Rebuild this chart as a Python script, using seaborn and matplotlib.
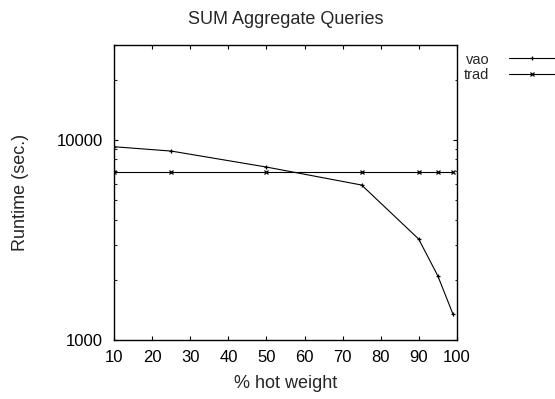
import matplotlib
matplotlib.use("Agg")
import matplotlib.pyplot as plt
import matplotlib.ticker as mticker
import numpy as np
import pandas as pd
import seaborn as sns

# Runtime measurements vs. share of hot weight
hot_weight = [10, 25, 50, 75, 90, 95, 99]
vao_runtime = [9260, 8810, 7330, 5960, 3200, 2100, 1350]
trad_runtime = [6920, 6920, 6920, 6920, 6920, 6920, 6920]
series_names = ["vao", "trad"]

x_ticks = [10, 20, 30, 40, 50, 60, 70, 80, 90, 100]
y_ticks = [1000, 10000]

df = pd.DataFrame({
    "hot": hot_weight * 2,
    "runtime": vao_runtime + trad_runtime,
    "series": [series_names[0]] * len(hot_weight) + [series_names[1]] * len(hot_weight),
})

sns.set_theme(style="ticks")
plt.rcParams["font.family"] = ["Liberation Sans", "DejaVu Sans"]

fig = plt.figure(figsize=(5.55, 3.99), dpi=100)
ax = fig.add_axes([114.3 / 555, 59 / 399, (456.7 - 114.3) / 555, (340 - 44.7) / 399])

sns.lineplot(
    data=df, x="hot", y="runtime", hue="series", style="series",
    markers={"vao": "+", "trad": "x"}, dashes=False,
    palette={"vao": "black", "trad": "black"},
    linewidth=0.8, markersize=3.5, markeredgewidth=0.9,
    markeredgecolor="black",
    ax=ax, legend=True,
)

ax.set_yscale("log")
ax.set_xlim(10, 100)
ax.set_ylim(1000, 30000)
ax.set_xticks(x_ticks)
ax.set_xticklabels([str(t) for t in x_ticks])
ax.yaxis.set_major_locator(mticker.FixedLocator(y_ticks))
ax.yaxis.set_major_formatter(mticker.FixedFormatter([str(t) for t in y_ticks]))
ax.yaxis.set_minor_locator(mticker.LogLocator(base=10, subs=np.arange(2, 10)))
ax.yaxis.set_minor_formatter(mticker.NullFormatter())

for side in ax.spines.values():
    side.set_linewidth(1.0)
    side.set_color("black")

ax.tick_params(axis="both", which="major", direction="in", length=3.2, width=0.8,
               top=True, right=True, labelsize=12, colors="black")
ax.tick_params(axis="x", which="major", pad=7)
ax.tick_params(axis="y", which="major", pad=8)
ax.tick_params(axis="y", which="minor", direction="in", length=1.8, width=0.8,
               left=True, right=True)
ax.tick_params(axis="x", which="minor", bottom=False, top=False)

ax.set_xlabel("% hot weight", fontsize=13)
ax.set_ylabel("Runtime (sec.)", fontsize=13)
ax.xaxis.set_label_coords(0.5, -(374.6 - 340) / 295.3)
ax.yaxis.set_label_coords((29 - 114.3) / 342.4, 0.5)
ax.set_title("SUM Aggregate Queries", fontsize=13, pad=14.7)

handles, labels = ax.get_legend_handles_labels()
ax.legend(handles, labels, loc="upper right", bbox_to_anchor=(1.0, 1 - 52.5 / 399),
          bbox_transform=fig.transFigure, frameon=False, markerfirst=False,
          fontsize=10.5, handlelength=3.15, handletextpad=1.37, labelspacing=0.1,
          borderpad=0, borderaxespad=0)

fig.savefig("out.png", dpi=100)
